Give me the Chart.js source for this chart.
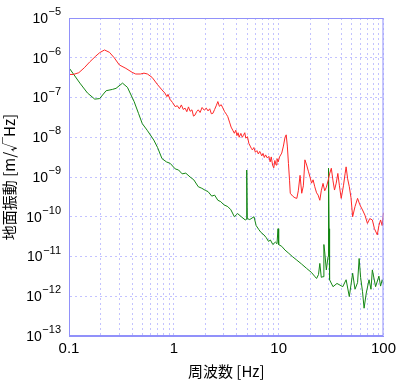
<!DOCTYPE html>
<html lang="ja">
<head>
  <meta charset="UTF-8">
  <title>地面振動スペクトル</title>
  <script src="https://cdn.jsdelivr.net/npm/chart.js"></script>
  <style>
    html, body { margin: 0; padding: 0; background: #fff; }
    #wrap { width: 400px; height: 381px; }
  </style>
</head>
<body>
  <div id="wrap"><canvas id="myChart" width="400" height="381"></canvas></div>

  <script>
    // frequency [Hz] / amplitude [m/√Hz]
    const redFreq = [0.1, 0.11, 0.124, 0.14, 0.158, 0.18, 0.196, 0.218, 0.243, 0.27, 0.302, 0.349, 0.40, 0.433, 0.48, 0.519, 0.56, 0.621, 0.70, 0.771, 0.82, 0.859, 0.88, 0.92, 0.97,
      1.03, 1.08, 1.13, 1.18, 1.23, 1.28, 1.33, 1.38, 1.43, 1.49, 1.54, 1.59, 1.65, 1.71, 1.78, 1.86, 1.95, 2.04, 2.12, 2.2, 2.28, 2.36, 2.45, 2.55, 2.63, 2.72, 2.83, 2.93,
      3.05, 3.17, 3.27, 3.4, 3.52, 3.65, 3.78, 3.9, 4.0, 4.1, 4.2, 4.36, 4.5, 4.6, 4.75, 4.86, 5.04, 5.2, 5.35, 5.5, 5.61, 5.8, 6.0, 6.2, 6.4, 6.6, 6.72, 6.9, 7.1, 7.3,
      7.5, 7.8, 8.06, 8.3, 8.5, 8.75, 8.98, 9.2, 9.45, 9.64, 9.9, 10.2, 10.7, 11.1, 11.5, 11.8, 12.1, 12.4, 12.7, 12.9, 13.6, 14.3, 14.9, 15.4, 16.0, 16.6, 17.2, 17.8,
      18.5, 19.2, 19.9, 20.6, 21.3, 22.1, 23.0, 23.8, 24.7, 25.5, 26.5, 27.5, 28.5, 29.6, 30.6, 31.8, 33.0, 34.1, 35.4, 36.7, 38.0, 39.5, 41.5, 43.0, 44.0, 45.5, 47.2,
      49.0, 50.8, 53.5, 56.6, 59.5, 63.1, 66.5, 70.3, 74.0, 78.3, 82.0, 87.3, 90.4, 93.8, 97.2, 100];
    const redVal = [3.8e-7, 3.8e-7, 4.2e-7, 5.6e-7, 7.9e-7, 1.1e-6, 1.34e-6, 1.57e-6, 1.37e-6, 1.0e-6, 6.6e-7, 5.4e-7, 4.3e-7, 3.9e-7, 3.9e-7, 4.1e-7, 3.9e-7, 3.2e-7, 2.1e-7, 1.55e-7, 1.3e-7, 1.05e-7, 1.2e-7, 9e-8, 7.5e-8,
      5.9e-8, 6.2e-8, 5.2e-8, 6.5e-8, 5.0e-8, 5.4e-8, 4.4e-8, 5.8e-8, 4.5e-8, 4.9e-8, 3.4e-8, 3.6e-8, 4.4e-8, 4.9e-8, 4.2e-8, 5.6e-8, 4.8e-8, 5.4e-8, 4.6e-8, 5.2e-8, 3.9e-8, 4.0e-8, 5.0e-8, 6.4e-8, 7.9e-8, 6.0e-8, 6.6e-8, 5.5e-8,
      4.4e-8, 3.8e-8, 3.3e-8, 2.4e-8, 1.8e-8, 1.5e-8, 1.26e-8, 1.5e-8, 1.1e-8, 1.3e-8, 1.0e-8, 1.25e-8, 1.0e-8, 1.1e-8, 1.3e-8, 9.5e-9, 1.03e-8, 7e-9, 6e-9, 5.2e-9, 4.8e-9, 5.5e-9, 4.2e-9, 4.6e-9, 3.8e-9, 4.4e-9, 4.0e-9, 3.4e-9, 3.9e-9, 3.1e-9,
      3.6e-9, 3.0e-9, 3.3e-9, 2.4e-9, 3.2e-9, 2.0e-9, 1.7e-9, 2.6e-9, 2.0e-9, 2.9e-9, 2.4e-9, 3.2e-9, 4.0e-9, 6.0e-9, 1.0e-8, 1.15e-8, 6e-9, 2.2e-9, 8.3e-10, 3.9e-10, 3.3e-10, 3.0e-10, 2.9e-10, 4.5e-10, 1.1e-9, 3.9e-10, 6e-10, 2.7e-9,
      2.0e-9, 1.4e-9, 1.0e-9, 7e-10, 8.5e-10, 5.7e-10, 4.0e-10, 3.5e-10, 2.6e-10, 4.5e-10, 6.9e-10, 4.5e-10, 5.5e-10, 8e-10, 1.2e-9, 1.66e-9, 8e-10, 4.7e-10, 7e-10, 1.23e-9, 6e-10, 2.9e-10, 6e-10, 1.2e-9, 1.8e-9, 9e-10, 5.7e-10,
      3e-10, 1.0e-10, 1.8e-10, 2.9e-10, 2.0e-10, 1.48e-10, 1.1e-10, 6.8e-11, 9e-11, 8.3e-11, 5e-11, 3.5e-11, 6e-11, 8.3e-11, 6e-11, 1.26e-10];

    const greenFreq = [0.1, 0.127, 0.15, 0.176, 0.196, 0.226, 0.26, 0.281, 0.324, 0.361, 0.418, 0.46, 0.50, 0.557, 0.644, 0.70, 0.771, 0.85, 0.924,
      1.03, 1.11, 1.2, 1.3, 1.43, 1.55, 1.71, 1.85, 2.0, 2.12, 2.3, 2.45, 2.63, 2.8, 3.0, 3.27, 3.5, 3.78, 4.06, 4.4, 4.8, 4.9, 4.96, 5.02, 5.3, 5.82,
      6.1, 6.49, 6.8, 7.23, 7.6, 8.0, 8.34, 8.8, 9.3, 9.64, 9.86, 10.0, 10.7, 11.5, 12.5, 13.5, 14.9, 16.5, 18.5, 20.5, 22.0, 23.0, 24.0, 24.7, 25.5,
      26.5, 27.0, 27.5, 28.5, 29.6, 29.9, 30.3, 30.6, 33.0, 36.0, 40.9, 44.0, 47.2, 50.8, 53.5, 56.6, 58.6, 60.5, 63.1, 65.3, 68.5, 72.8, 76, 78.3,
      84.1, 90.4, 93.8, 97.2, 100];
    const greenVal = [5.6e-7, 2.3e-7, 1.3e-7, 9.1e-8, 9.4e-8, 1.48e-7, 1.6e-7, 1.7e-7, 2.3e-7, 1.8e-7, 7.9e-8, 4e-8, 2.2e-8, 1.5e-8, 8.5e-9, 5.5e-9, 2.9e-9, 2.4e-9, 2.2e-9,
      1.6e-9, 1.5e-9, 1.2e-9, 1.25e-9, 1.0e-9, 8.5e-10, 5.7e-10, 5.2e-10, 4.6e-10, 4.3e-10, 3.3e-10, 3.5e-10, 2.6e-10, 2.4e-10, 2.0e-10, 1.8e-10, 1.5e-10, 1.0e-10, 1.2e-10, 1.0e-10, 8.3e-11, 8.6e-11, 1.5e-9, 9e-11, 8.5e-11, 1.0e-10,
      6e-11, 4.7e-11, 4.0e-11, 3.5e-11, 3.0e-11, 2.4e-11, 2.6e-11, 2.0e-11, 2.3e-11, 2.1e-11, 5e-11, 2.0e-11, 1.8e-11, 1.45e-11, 1.2e-11, 1.0e-11, 8.1e-12, 6.5e-12, 5e-12, 4.0e-12, 3.2e-12, 2.8e-12, 3.5e-12, 6.7e-12, 3.0e-12,
      3.1e-12, 2.0e-11, 1.3e-11, 4.6e-12, 1e-11, 1.66e-9, 5e-11, 2.6e-12, 1.74e-12, 2.1e-12, 1.74e-12, 2.6e-12, 9.8e-13, 3.8e-12, 1.5e-12, 2.2e-12, 8.9e-12, 3.0e-12, 1.3e-12, 5e-13, 1.2e-12, 2.6e-12, 1.5e-12, 4.6e-12,
      1.74e-12, 3.2e-12, 1.8e-12, 2.6e-12, 2.1e-12];

    const xTicks = [0.1, 0.2, 0.3, 0.4, 0.5, 0.6, 0.7, 0.8, 0.9, 1, 2, 3, 4, 5, 6, 7, 8, 9, 10, 20, 30, 40, 50, 60, 70, 80, 90, 100];
    const xLabels = [0.1, 1, 10, 100];
    const yExponents = [-13, -12, -11, -10, -9, -8, -7, -6, -5];

    const gridColor = 'rgb(195,195,255)';
    const frameColor = 'rgb(145,145,250)';
    const numFont = '"Liberation Sans", Arial, sans-serif';
    const jpFont = '"Noto Sans CJK JP", "Liberation Sans", sans-serif';

    // y labels as 10 with a raised exponent
    const yLabelPlugin = {
      id: 'yLabels',
      afterDraw(chart) {
        const ctx = chart.ctx;
        const y = chart.scales.y;
        ctx.save();
        ctx.fillStyle = '#000';
        ctx.textBaseline = 'middle';
        ctx.textAlign = 'right';
        yExponents.forEach(e => {
          const py = y.getPixelForValue(Math.pow(10, e));
          const exp = '−' + Math.abs(e);
          ctx.font = '11px ' + numFont;
          const w = ctx.measureText(exp).width;
          ctx.fillText(exp, 61, py - 6);
          ctx.font = '14px ' + numFont;
          ctx.fillText('10', 61 - w - 0.5, py + 1);
        });
        // frame round the plot area
        const a = chart.chartArea;
        ctx.strokeStyle = frameColor;
        ctx.lineWidth = 1;
        ctx.strokeRect(a.left + 0.5, a.top + 0.5, a.right - a.left - 1, a.bottom - a.top - 1);
        ctx.restore();
      }
    };

    const ctx = document.getElementById('myChart').getContext('2d');
    window.myChart = new Chart(ctx, {
      type: 'line',
      data: {
        datasets: [{
          data: redFreq.map((f, i) => ({ x: f, y: redVal[i] })),
          borderColor: 'rgb(255,40,40)',
          borderWidth: 1,
          pointRadius: 0,
          tension: 0
        }, {
          data: greenFreq.map((f, i) => ({ x: f, y: greenVal[i] })),
          borderColor: 'rgb(20,135,20)',
          borderWidth: 1,
          pointRadius: 0,
          tension: 0
        }]
      },
      options: {
        responsive: false,
        animation: false,
        layout: { padding: { top: 18, right: 12, left: 0, bottom: 0 } },
        plugins: { legend: { display: false }, tooltip: { enabled: false } },
        scales: {
          x: {
            type: 'logarithmic',
            min: 0.1,
            max: 100,
            afterBuildTicks(scale) { scale.ticks = xTicks.map(v => ({ value: v })); },
            afterFit(scale) { scale.height = 45; },
            ticks: {
              autoSkip: false,
              maxRotation: 0,
              padding: 4,
              color: '#000',
              font: { family: numFont, size: 15 },
              callback: v => xLabels.includes(v) ? String(v) : ''
            },
            grid: { color: gridColor, drawTicks: false },
            border: { color: frameColor, dash: [2, 3] },
            title: {
              display: true,
              text: '周波数 [Hz]',
              color: '#000',
              font: { family: jpFont, size: 15 },
              padding: { top: 0, bottom: 1 }
            }
          },
          y: {
            type: 'logarithmic',
            min: 1e-13,
            max: 1e-5,
            afterBuildTicks(scale) { scale.ticks = yExponents.map(e => ({ value: Math.pow(10, e) })); },
            afterFit(scale) { scale.width = 69; },
            ticks: { display: false },
            grid: { color: gridColor, drawTicks: false },
            border: { color: frameColor, dash: [2, 3] },
            title: {
              display: true,
              text: '地面振動 [m/√Hz]',
              color: '#000',
              font: { family: jpFont, size: 15 },
              padding: 0
            }
          }
        }
      },
      plugins: [yLabelPlugin]
    });
  </script>
</body>
</html>
